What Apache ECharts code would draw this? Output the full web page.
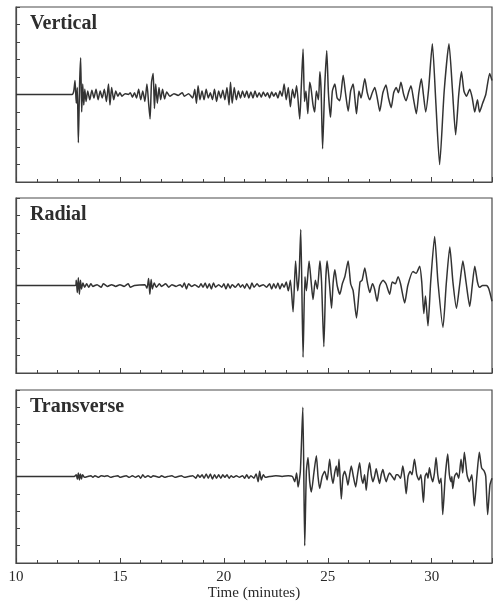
<!DOCTYPE html>
<html>
<head>
<meta charset="utf-8">
<script src="https://cdn.jsdelivr.net/npm/echarts@6/dist/echarts.min.js"></script>
<style>
html,body{margin:0;padding:0;background:#fff;}
#chart{width:493px;height:603px;}
</style>
</head>
<body>
<div id="chart"></div>
<script>
// Panel names
var panelNames = ['Vertical', 'Radial', 'Transverse'];
// X axis (time in minutes)
var xMin = 10, xMax = 32.9;
var xTickLabels = [10, 15, 20, 25, 30];
var axisTitle = 'Time (minutes)';

// Traces: [time (min), amplitude]
var verticalData = [[10,0],[12.7,0],[12.78,0.2],[12.84,0.8],[12.9,-0.5],[12.95,0.4],[13.0,-2.75],[13.06,0.6],[13.11,2.1],[13.16,-1.0],[13.21,0.6],[13.26,-0.6],[13.31,0.3],[13.37,-0.4],[13.45,0.2],[13.55,-0.3],[13.65,0.25],[13.75,-0.2],[13.85,0.3],[13.95,-0.3],[14.05,0.2],[14.15,-0.2],[14.25,0.3],[14.35,-0.4],[14.45,0.6],[14.52,-0.6],[14.6,0.4],[14.7,-0.3],[14.8,0.2],[14.9,-0.1],[15.0,0.1],[15.1,-0.1],[15.25,0.05],[15.4,0],[15.5,0.1],[15.6,-0.15],[15.7,0.1],[15.8,-0.2],[15.9,0.3],[16.0,-0.3],[16.1,0.2],[16.2,-0.4],[16.3,0.6],[16.38,-0.5],[16.45,-1.4],[16.52,0.7],[16.6,1.2],[16.66,-0.8],[16.72,0.6],[16.8,-0.5],[16.88,0.4],[16.96,-0.3],[17.05,0.3],[17.15,-0.25],[17.25,0.15],[17.4,-0.1],[17.6,0.05],[17.8,-0.05],[18.0,0.1],[18.1,-0.1],[18.3,0.05],[18.5,-0.2],[18.6,0.3],[18.68,-0.5],[18.76,0.5],[18.85,-0.3],[18.95,0.2],[19.05,-0.3],[19.15,0.3],[19.25,-0.2],[19.35,0.1],[19.45,-0.3],[19.55,0.3],[19.65,-0.4],[19.75,0.2],[19.85,-0.2],[19.95,0.25],[20.05,-0.3],[20.15,0.4],[20.25,-0.6],[20.32,0.7],[20.4,-0.5],[20.5,0.4],[20.6,-0.3],[20.7,0.2],[20.8,-0.2],[20.9,0.2],[21.0,-0.15],[21.1,0.2],[21.2,-0.2],[21.3,0.15],[21.4,-0.2],[21.5,0.2],[21.6,-0.15],[21.7,0.1],[21.8,-0.15],[21.9,0.15],[22.0,-0.1],[22.1,0.1],[22.2,-0.2],[22.3,0.15],[22.4,-0.1],[22.5,0.1],[22.6,-0.2],[22.7,0.2],[22.8,-0.1],[22.9,0.6],[23.0,-0.3],[23.1,0.4],[23.2,-0.7],[23.3,0.3],[23.4,-0.2],[23.5,0.5],[23.65,-1.4],[23.72,0.3],[23.81,2.6],[23.88,-0.4],[23.95,0.2],[24.04,-1.1],[24.13,0.7],[24.2,0.3],[24.29,-0.6],[24.37,-1.0],[24.45,0.2],[24.55,-0.3],[24.62,1.3],[24.68,0.2],[24.75,-3.1],[24.85,0.4],[24.95,2.5],[25.03,0.1],[25.13,-1.3],[25.22,0.2],[25.34,0.6],[25.45,-0.2],[25.58,-0.35],[25.74,1.1],[25.85,0.1],[25.98,-0.95],[26.1,0.2],[26.22,0.6],[26.3,-0.2],[26.38,-1.1],[26.5,0.2],[26.6,-0.2],[26.78,0.9],[26.9,0.1],[27.02,-0.3],[27.14,0.1],[27.26,0.4],[27.38,-0.2],[27.5,-0.95],[27.65,0.1],[27.8,0.55],[27.92,-0.2],[28.05,-0.75],[28.17,0.1],[28.29,0.4],[28.4,0.1],[28.52,0.7],[28.65,0.0],[28.77,-0.35],[28.88,0.1],[29.0,0.5],[29.13,-0.3],[29.26,-1.1],[29.38,0.1],[29.5,0.9],[29.6,0.0],[29.71,-1.0],[29.85,0.3],[30.03,2.9],[30.2,-0.5],[30.38,-4.0],[30.6,0.2],[30.83,2.9],[31.0,0.2],[31.15,-2.3],[31.3,0.0],[31.43,1.3],[31.55,0.2],[31.67,-0.1],[31.83,0.3],[31.95,-0.2],[32.07,-1.0],[32.2,-0.3],[32.3,-1.0],[32.45,-0.5],[32.6,0.0],[32.79,1.2],[32.9,0.8]];

var radialData = [[10,0],[12.85,0],[12.9,0.3],[12.95,-0.4],[13.0,0.45],[13.05,-0.5],[13.1,0.3],[13.15,-0.2],[13.22,0.15],[13.3,-0.1],[13.4,0.1],[13.5,-0.1],[13.6,0.1],[13.7,-0.05],[13.9,0.05],[14.1,-0.1],[14.2,0.1],[14.4,-0.05],[14.6,0.05],[14.8,-0.05],[15.0,0.05],[15.2,-0.05],[15.4,0.1],[15.5,-0.1],[15.7,0],[16.2,0.05],[16.3,-0.15],[16.38,0.4],[16.44,-0.5],[16.5,0.35],[16.56,-0.2],[16.65,0.15],[16.75,-0.1],[16.9,0.1],[17.0,-0.05],[17.2,0.1],[17.35,-0.1],[17.5,0.05],[17.7,-0.05],[17.9,0.05],[18.0,-0.1],[18.1,0.15],[18.2,-0.2],[18.3,0.1],[18.45,-0.05],[18.6,0.05],[18.8,-0.1],[18.9,0.1],[19.0,-0.1],[19.1,0.15],[19.2,-0.15],[19.3,0.1],[19.4,-0.2],[19.5,0.15],[19.6,-0.1],[19.75,0.05],[19.9,-0.1],[20.0,0.1],[20.1,-0.2],[20.2,0.1],[20.3,-0.15],[20.4,0.05],[20.55,-0.1],[20.7,0.1],[20.8,-0.1],[20.9,0.05],[21.0,-0.15],[21.1,0.1],[21.25,-0.2],[21.35,0.15],[21.45,-0.1],[21.6,0.1],[21.7,-0.05],[21.9,0.05],[22.05,-0.1],[22.2,0.1],[22.3,-0.2],[22.4,0.1],[22.5,-0.15],[22.6,0.15],[22.7,-0.2],[22.8,0.1],[22.9,-0.1],[23.0,0.2],[23.1,-0.3],[23.2,0.3],[23.33,-1.5],[23.45,1.4],[23.55,-0.3],[23.62,0.6],[23.7,3.2],[23.81,-4.1],[23.9,0.5],[23.97,-0.3],[24.1,1.4],[24.2,0.2],[24.29,-0.8],[24.4,0.3],[24.5,-0.2],[24.62,1.4],[24.7,0.2],[24.81,-3.5],[24.9,0.3],[24.97,1.4],[25.08,0.1],[25.18,-1.3],[25.26,0.2],[25.34,0.9],[25.45,0.0],[25.58,-0.5],[25.7,0.1],[25.82,0.5],[25.98,1.4],[26.1,0.1],[26.22,-0.3],[26.38,-1.85],[26.55,0.2],[26.65,0.3],[26.78,1.0],[26.9,0.2],[27.02,-0.4],[27.15,0.1],[27.25,-0.2],[27.37,-0.9],[27.5,0.0],[27.66,0.3],[27.8,0.1],[27.98,-0.5],[28.1,0.2],[28.25,0.1],[28.38,0.5],[28.5,0.1],[28.7,-1.0],[28.85,0.0],[29.1,0.8],[29.25,0.7],[29.42,1.1],[29.52,0.2],[29.62,-1.6],[29.7,-0.6],[29.82,-2.3],[29.95,0.2],[30.14,2.8],[30.3,0.2],[30.54,-2.4],[30.7,0.1],[30.87,2.2],[31.02,0.2],[31.19,-1.3],[31.35,0.1],[31.5,1.4],[31.65,0.2],[31.83,-1.2],[31.95,0.0],[32.07,1.1],[32.2,0.2],[32.3,-0.1],[32.45,0.0],[32.63,0.0],[32.75,-0.2],[32.9,-0.9]];

var transverseData = [[10,0],[12.8,0],[12.9,0.1],[12.95,-0.15],[13.0,0.2],[13.05,-0.2],[13.1,0.15],[13.15,-0.15],[13.2,0.1],[13.3,-0.05],[13.45,0],[13.6,0.05],[13.7,-0.05],[13.8,0.05],[13.95,-0.05],[14.1,0.05],[14.25,0],[14.4,0.05],[14.55,-0.05],[14.7,0],[14.9,0.05],[15.0,-0.05],[15.15,0],[15.3,0.05],[15.45,-0.05],[15.6,0.05],[15.75,-0.05],[15.9,0.05],[16.0,-0.1],[16.1,0.1],[16.2,-0.05],[16.35,0.05],[16.5,-0.05],[16.6,0.05],[16.75,0],[16.9,-0.05],[17.0,0.05],[17.15,-0.05],[17.3,0],[17.5,0.05],[17.65,-0.05],[17.8,0],[17.95,0.05],[18.1,-0.05],[18.3,0],[18.5,0.05],[18.65,-0.1],[18.75,0.1],[18.85,-0.05],[18.95,0.1],[19.05,-0.1],[19.15,0.15],[19.25,-0.1],[19.35,0.15],[19.45,-0.15],[19.55,0.1],[19.65,-0.1],[19.75,0.1],[19.85,-0.1],[19.95,0.1],[20.05,-0.05],[20.15,0.1],[20.25,-0.1],[20.35,0.05],[20.45,-0.05],[20.6,0.05],[20.75,-0.05],[20.9,0.05],[21.0,-0.1],[21.1,0.1],[21.2,-0.1],[21.3,0.05],[21.45,-0.1],[21.55,0.15],[21.65,-0.3],[21.72,0.3],[21.8,-0.2],[21.9,0.1],[22.0,-0.05],[22.2,0],[22.5,0.05],[22.8,0],[23.1,0.05],[23.3,0],[23.41,-0.3],[23.5,0.2],[23.57,-0.6],[23.68,0.3],[23.8,4.0],[23.89,-4.0],[23.97,0.3],[24.05,1.1],[24.13,-0.3],[24.21,-0.9],[24.33,0.2],[24.45,1.2],[24.53,0.0],[24.61,-0.7],[24.73,0.0],[24.85,0.3],[24.97,-0.2],[25.09,1.0],[25.17,0.1],[25.25,-0.4],[25.33,0.2],[25.41,0.6],[25.48,0.0],[25.54,1.0],[25.65,-1.3],[25.73,0.0],[25.81,0.3],[25.89,0.0],[25.97,-0.5],[26.05,0.1],[26.13,0.6],[26.23,0.0],[26.34,-0.6],[26.43,0.1],[26.53,0.8],[26.61,0.0],[26.69,-0.4],[26.77,0.1],[26.85,-0.8],[26.93,0.2],[27.01,0.8],[27.09,0.1],[27.17,-0.3],[27.25,0.0],[27.33,0.45],[27.41,0.0],[27.49,-0.4],[27.57,0.1],[27.65,0.4],[27.73,0.0],[27.81,-0.3],[27.89,0.0],[27.97,0.2],[28.1,0.0],[28.21,-0.2],[28.29,0.1],[28.37,0.1],[28.5,-0.1],[28.61,0.6],[28.69,0.0],[28.77,-1.0],[28.86,0.0],[28.96,0.3],[29.05,0.1],[29.17,1.0],[29.28,0.1],[29.38,-0.2],[29.48,0.1],[29.6,-1.5],[29.68,0.0],[29.76,0.2],[29.82,-0.1],[29.89,0.5],[29.97,0.0],[30.05,-0.3],[30.13,0.2],[30.21,1.1],[30.29,0.1],[30.37,-0.4],[30.45,-0.1],[30.53,-2.2],[30.65,0.0],[30.77,1.3],[30.85,0.1],[30.93,-0.3],[30.97,0.0],[31.01,-0.7],[31.1,0.0],[31.2,0.2],[31.3,-0.1],[31.41,1.0],[31.49,0.2],[31.57,1.4],[31.7,0.1],[31.81,-0.3],[31.93,0.1],[32.05,-1.7],[32.17,0.0],[32.29,1.4],[32.4,0.5],[32.53,0.3],[32.6,0.0],[32.69,-2.2],[32.8,-0.5],[32.9,-0.1]];

var traces = [verticalData, radialData, transverseData];

var chart = echarts.init(document.getElementById('chart'), null, {renderer: 'canvas'});
var gridTops = [7, 198, 390];
var gridHeights = [175, 175, 173];
var titleTops = [14, 205, 397];
var serif = '"Liberation Serif", "Times New Roman", serif';
var frameColor = '#4a4a4a';

var grids = [], xAxes = [], yAxes = [], series = [], titles = [];
for (var i = 0; i < 3; i++) {
  grids.push({left: 16, right: 1, top: gridTops[i], height: gridHeights[i],
    show: true, borderColor: frameColor, borderWidth: 1.2, containLabel: false});
  xAxes.push({
    gridIndex: i, type: 'value', min: xMin, max: xMax, interval: 5,
    axisLine: {show: true, onZero: false, lineStyle: {color: frameColor, width: 1.2}},
    axisTick: {show: true, inside: true, length: 5, lineStyle: {color: '#444', width: 1}},
    minorTick: {show: true, splitNumber: 5, length: 3, lineStyle: {color: '#444', width: 1}},
    splitLine: {show: false},
    axisLabel: {
      show: i === 2, margin: 7, showMaxLabel: false,
      color: '#2a2a2a', fontFamily: serif, fontSize: 15,
      formatter: function (v) { return xTickLabels.indexOf(v) >= 0 ? String(v) : ''; }
    },
    name: i === 2 ? axisTitle : '',
    nameLocation: 'middle', nameGap: 21,
    nameTextStyle: {color: '#2a2a2a', fontFamily: serif, fontSize: 15}
  });
  yAxes.push({
    gridIndex: i, type: 'value', min: -5, max: 5, interval: 1,
    axisLine: {show: true, lineStyle: {color: frameColor, width: 1.2}},
    axisTick: {show: true, inside: true, length: 4, lineStyle: {color: '#444'}},
    axisLabel: {show: false}, splitLine: {show: false}
  });
  series.push({
    type: 'line', xAxisIndex: i, yAxisIndex: i, data: traces[i],
    showSymbol: false, smooth: 0.2, animation: false,
    lineStyle: {color: '#333', width: 1.5}
  });
  titles.push({text: panelNames[i], left: 30, top: titleTops[i], padding: 0,
    textStyle: {fontFamily: serif, fontSize: 20, fontWeight: 'bold', color: '#2e2e2e'}});
}

chart.setOption({
  animation: false,
  backgroundColor: '#fff',
  title: titles,
  grid: grids,
  xAxis: xAxes,
  yAxis: yAxes,
  series: series
});
</script>
</body>
</html>
